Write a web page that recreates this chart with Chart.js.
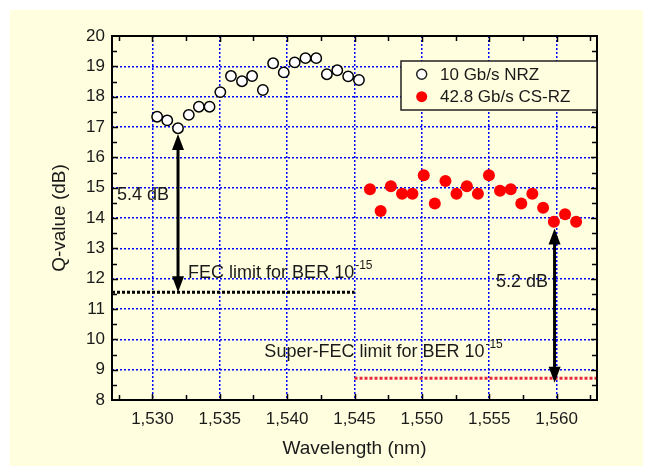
<!DOCTYPE html>
<html>
<head>
<meta charset="utf-8">
<script src="https://cdn.jsdelivr.net/npm/chart.js@4"></script>
<style>
  body { margin: 0; background: #fff; }
  canvas { display: block; }
</style>
</head>
<body>
<canvas id="canvas1" width="647" height="466"></canvas>
<script>
// data
var nrzWavelength = [1530.35, 1531.1, 1531.9, 1532.7, 1533.45, 1534.24, 1535.04, 1535.83, 1536.65, 1537.4,
                     1538.2, 1538.96, 1539.75, 1540.56, 1541.36, 1542.16, 1542.95, 1543.72, 1544.53, 1545.33];
var nrzQ = [17.34, 17.22, 16.96, 17.4, 17.67, 17.67, 18.15, 18.68, 18.51, 18.68,
            18.22, 19.1, 18.8, 19.13, 19.27, 19.27, 18.74, 18.87, 18.67, 18.55];
var csrzWavelength = [1546.15, 1546.94, 1547.7, 1548.53, 1549.3, 1550.14, 1550.96, 1551.75, 1552.57, 1553.34,
                      1554.16, 1554.98, 1555.8, 1556.6, 1557.38, 1558.2, 1559.0, 1559.8, 1560.63, 1561.45];
var csrzQ = [14.95, 14.23, 15.05, 14.8, 14.8, 15.41, 14.48, 15.22, 14.8, 15.05,
             14.8, 15.41, 14.9, 14.95, 14.48, 14.8, 14.34, 13.88, 14.12, 13.88];

var seriesLabels = ['10 Gb/s NRZ', '42.8 Gb/s CS-RZ'];

var fecLimitX = [1527, 1545];
var fecLimitY = [11.55, 11.55];
var superFecX = [1545, 1563];
var superFecY = [8.72, 8.72];

// double arrows: [x, yTop, yBottom]
var marginArrows = [[1531.9, 16.77, 11.55], [1559.85, 13.65, 8.57]];

var xTicks = [1530, 1535, 1540, 1545, 1550, 1555, 1560];
var yTicks = [8, 9, 10, 11, 12, 13, 14, 15, 16, 17, 18, 19, 20];

var textFont = '"Liberation Sans", Arial, sans-serif';

function xy(xs, ys) {
    var out = [];
    for (let i = 0; i < xs.length; i++) out.push({x: xs[i], y: ys[i]});
    return out;
}

var backgroundPlugin = {
    id: 'bg',
    beforeDraw: function(chart) {
        var ctx = chart.ctx;
        ctx.save();
        ctx.fillStyle = '#ffffff';
        ctx.fillRect(0, 0, chart.width, chart.height);
        ctx.fillStyle = '#ffffe0';
        ctx.fillRect(10, 10, 633, 456);
        ctx.restore();
    }
};

var framePlugin = {
    id: 'frame',
    afterDatasetsDraw: function(chart) {
        var ctx = chart.ctx;
        var a = chart.chartArea;
        var xs = chart.scales.x, ys = chart.scales.y;
        ctx.save();
        ctx.strokeStyle = '#000';
        ctx.lineWidth = 1.5;
        // minor + major ticks, inward on all four sides
        for (let v = 1527.5; v <= 1563; v += 2.5) {
            var px = Math.round(xs.getPixelForValue(v)) + 0.5;
            var len = (v % 5 === 0) ? 6 : 5;
            ctx.beginPath();
            ctx.moveTo(px, a.bottom); ctx.lineTo(px, a.bottom - len);
            ctx.moveTo(px, a.top); ctx.lineTo(px, a.top + len);
            ctx.stroke();
        }
        for (let v = 8.5; v < 20; v += 0.5) {
            var py = Math.round(ys.getPixelForValue(v)) + 0.5;
            var len2 = (v % 1 === 0) ? 6 : 5;
            ctx.beginPath();
            ctx.moveTo(a.left, py); ctx.lineTo(a.left + len2, py);
            ctx.moveTo(a.right, py); ctx.lineTo(a.right - len2, py);
            ctx.stroke();
        }
        ctx.lineWidth = 2;
        ctx.strokeRect(a.left, a.top, a.right - a.left, a.bottom - a.top);
        ctx.restore();
    }
};

function drawArrowHead(ctx, x, y, dir) {
    ctx.beginPath();
    ctx.moveTo(x, y);
    ctx.lineTo(x - 6, y + dir * 16);
    ctx.lineTo(x + 6, y + dir * 16);
    ctx.closePath();
    ctx.fill();
}

var annotationPlugin = {
    id: 'notes',
    afterDraw: function(chart) {
        var ctx = chart.ctx;
        var xs = chart.scales.x, ys = chart.scales.y;
        ctx.save();
        // arrows
        ctx.strokeStyle = '#000';
        ctx.fillStyle = '#000';
        ctx.lineWidth = 3;
        marginArrows.forEach(function(ar) {
            var px = xs.getPixelForValue(ar[0]);
            var y1 = ys.getPixelForValue(ar[1]);
            var y2 = ys.getPixelForValue(ar[2]);
            ctx.beginPath();
            ctx.moveTo(px, y1 + 10);
            ctx.lineTo(px, y2 - 10);
            ctx.stroke();
            drawArrowHead(ctx, px, y1, 1);
            drawArrowHead(ctx, px, y2, -1);
        });

        ctx.fillStyle = '#1a1a1a';
        ctx.textBaseline = 'alphabetic';
        ctx.font = '18px ' + textFont;
        ctx.fillText('5.4 dB', xs.getPixelForValue(1527.37), ys.getPixelForValue(14.6));
        ctx.fillText('5.2 dB', xs.getPixelForValue(1555.5), ys.getPixelForValue(11.74));

        function berLabel(text, x, y) {
            ctx.font = '18px ' + textFont;
            var px = xs.getPixelForValue(x);
            var py = ys.getPixelForValue(y);
            ctx.fillText(text, px, py);
            var w = ctx.measureText(text).width;
            ctx.font = '12px ' + textFont;
            ctx.fillText('-15', px + w + 1, py - 9);
        }
        berLabel('FEC limit for BER 10', 1532.65, 12.01);
        berLabel('Super-FEC limit for BER 10', 1538.31, 9.43);

        // legend box inside the plot
        var lx = 401, ly = 61, lw = 196, lh = 49;
        ctx.fillStyle = '#ffffe0';
        ctx.fillRect(lx, ly, lw, lh);
        ctx.strokeStyle = '#222';
        ctx.lineWidth = 1.5;
        ctx.strokeRect(lx, ly, lw, lh);
        ctx.beginPath();
        ctx.arc(421.7, 74.3, 5, 0, Math.PI * 2);
        ctx.fillStyle = '#fff';
        ctx.fill();
        ctx.stroke();
        ctx.beginPath();
        ctx.arc(421.7, 96.7, 5.5, 0, Math.PI * 2);
        ctx.fillStyle = '#ff0000';
        ctx.fill();
        ctx.fillStyle = '#1a1a1a';
        ctx.font = '17px ' + textFont;
        ctx.textBaseline = 'middle';
        ctx.fillText(seriesLabels[0], 440, 75);
        ctx.fillText(seriesLabels[1], 440, 97.5);
        ctx.restore();
    }
};

var myChart = new Chart(document.getElementById('canvas1'), {
    type: 'scatter',
    data: {
        datasets: [{
            label: 'FEC limit',
            data: xy(fecLimitX, fecLimitY),
            showLine: true,
            borderColor: '#000',
            borderWidth: 3,
            borderDash: [3, 2],
            pointRadius: 0
        }, {
            label: 'Super-FEC limit',
            data: xy(superFecX, superFecY),
            showLine: true,
            borderColor: '#e8283a',
            borderWidth: 3,
            borderDash: [3, 2],
            pointRadius: 0
        }, {
            label: seriesLabels[0],
            data: xy(nrzWavelength, nrzQ),
            backgroundColor: '#ffffff',
            borderColor: '#000',
            borderWidth: 1.5,
            pointRadius: 5.2
        }, {
            label: seriesLabels[1],
            data: xy(csrzWavelength, csrzQ),
            backgroundColor: '#ff0000',
            borderColor: '#ff0000',
            borderWidth: 0,
            pointRadius: 6
        }]
    },
    options: {
        responsive: false,
        animation: false,
        layout: { padding: { left: 48, top: 36, right: 50, bottom: 6 } },
        plugins: {
            legend: { display: false },
            tooltip: { enabled: false }
        },
        scales: {
            x: {
                type: 'linear',
                min: 1527,
                max: 1563,
                afterBuildTicks: function(scale) {
                    scale.ticks = xTicks.map(function(v) { return {value: v}; });
                },
                afterFit: function(scale) { scale.height = 60; },
                ticks: {
                    padding: 9,
                    maxRotation: 0,
                    color: '#1a1a1a',
                    font: { family: textFont, size: 17 },
                    callback: function(v) { return v.toLocaleString('en-US'); }
                },
                grid: { color: '#0000ff', lineWidth: 1.5, drawTicks: false },
                border: { display: false, dash: [2, 2] },
                title: {
                    display: true,
                    text: 'Wavelength (nm)',
                    color: '#1a1a1a',
                    font: { family: textFont, size: 19 },
                    padding: 0
                }
            },
            y: {
                type: 'linear',
                min: 8,
                max: 20,
                afterBuildTicks: function(scale) {
                    scale.ticks = yTicks.map(function(v) { return {value: v}; });
                },
                afterFit: function(scale) { scale.width = 64; },
                ticks: {
                    padding: 7,
                    color: '#1a1a1a',
                    font: { family: textFont, size: 17 }
                },
                grid: { color: '#0000ff', lineWidth: 1.5, drawTicks: false },
                border: { display: false, dash: [2, 2] },
                title: {
                    display: true,
                    text: 'Q-value (dB)',
                    color: '#1a1a1a',
                    font: { family: textFont, size: 19 },
                    padding: 0
                }
            }
        }
    },
    plugins: [backgroundPlugin, framePlugin, annotationPlugin]
});
</script>
</body>
</html>
